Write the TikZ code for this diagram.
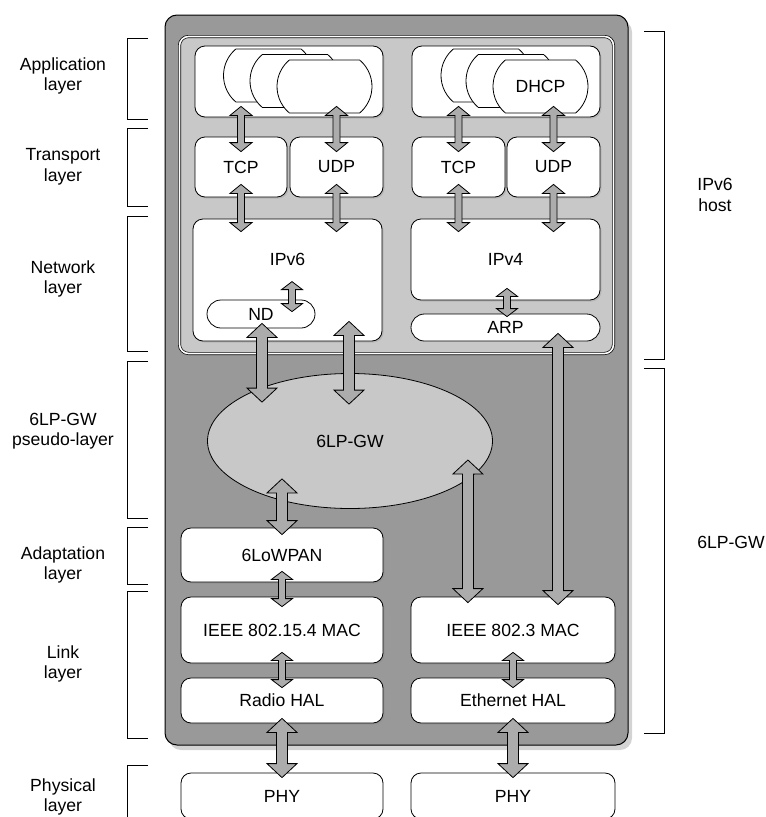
\documentclass[tikz,border=0pt]{standalone}
\usepackage{fontspec}
\setmainfont{Liberation Sans}
\usetikzlibrary{calc,shapes.misc,shapes.geometric,shadows}
\definecolor{gwgray}{RGB}{153,153,153}
\definecolor{hostgray}{RGB}{200,200,200}
\definecolor{arrgray}{RGB}{172,172,172}

\begin{document}
\begin{tikzpicture}[x=1pt, y=-1pt,
    font=\fontsize{17.6}{20.5}\selectfont,
    sz/.style 2 args={minimum width=#1pt, minimum height=#2pt},
    stackbox/.style={rectangle, rounded corners=12pt, draw, line width=1pt, fill=gwgray, inner sep=0pt,
        drop shadow={opacity=0.35, shadow xshift=4pt, shadow yshift=-5pt}},
    hostbox/.style={rectangle, rounded corners=9pt, draw=black, double=white, double distance=1.6pt,
        line width=0.7pt, fill=hostgray, inner sep=0pt},
    plainbox/.style={rectangle, rounded corners=10pt, draw, line width=0.8pt, fill=white, inner sep=0pt},
    box/.style={plainbox, drop shadow={opacity=0.25, shadow xshift=1.5pt, shadow yshift=-1.5pt}},
    app/.style={rounded rectangle, rounded rectangle arc length=100, draw, line width=0.8pt,
        fill=white, inner sep=0pt, sz={90}{53}},
    pill/.style={rounded rectangle, draw, line width=0.8pt, fill=white, inner sep=0pt},
    gwell/.style={ellipse, draw, line width=0.8pt, fill=hostgray, inner sep=0pt},
    lbl/.style={align=center, inner sep=0pt},
    brk/.style={line width=0.9pt},
    blkarrow/.style n args={3}{draw, line width=0.8pt, fill=arrgray,
        to path={let \p1=(\tikztostart), \p2=(\tikztotarget) in
            (\x1,\y1) -- (\x1+#2,\y1-#3) -- (\x1+#1,\y1-#3) -- (\x1+#1,\y2+#3) -- (\x1+#2,\y2+#3)
            -- (\x1,\y2) -- (\x1-#2,\y2+#3) -- (\x1-#1,\y2+#3) -- (\x1-#1,\y1-#3) -- (\x1-#2,\y1-#3) -- cycle}},
    bigarrow/.style={blkarrow={5.5pt}{15pt}{14pt}},
    midarrow/.style={blkarrow={3.5pt}{11pt}{9pt}},
    smallarrow/.style={blkarrow={3.5pt}{10.5pt}{8pt}}
]
\useasboundingbox (0,0) rectangle (766,817);

% ---- frames ----
\node[stackbox, sz={463}{730}] (stack) at (396.5,380) {};
\node[hostbox, sz={434}{317}] (host) at (396.5,195) {};

% ---- application layer ----
\node[box, sz={188}{71}] (appL) at (289,81.5) {};
\node[box, sz={188}{71}] (appR) at (506,81.5) {};
\node[app] (aL1) at (268.5,75.5) {};
\node[app] (aL2) at (295,81) {};
\node[app, sz={95}{53}] (aL3) at (324.5,86.5) {};
\node[app] (aR1) at (486,75.5) {};
\node[app] (aR2) at (511,81) {};
\node[app, sz={95}{53}] (aR3) at (540.5,86.5) {DHCP};

% ---- transport layer ----
\node[box, sz={92}{60}] (tcpL) at (241,167) {TCP};
\node[box, sz={93}{60}] (udpL) at (336.5,167) {UDP};
\node[box, sz={93}{60}] (tcpR) at (458.5,167) {TCP};
\node[box, sz={93}{60}] (udpR) at (553.5,167) {UDP};

% ---- network layer ----
\node[box, sz={189}{122}, label={[yshift=21pt]center:IPv6}] (ipv6) at (287.5,280) {};
\node[box, sz={189}{81}] (ipv4) at (505.5,259.5) {IPv4};
\node[pill, sz={108}{28}] (nd) at (261,314) {ND};
\node[pill, sz={189}{27}] (arp) at (505.5,327.5) {ARP};

% ---- gateway and below ----
\node[gwell, sz={285}{135}] (lpgw) at (350,441) {6LP-GW};
\node[box, sz={202}{54}] (lowpan) at (282,555) {6LoWPAN};
\node[box, sz={202}{66}] (mac154) at (282,630) {IEEE 802.15.4 MAC};
\node[box, sz={204}{66}] (mac3) at (513,630) {IEEE 802.3 MAC};
\node[box, sz={202}{45}] (halR) at (282,700.5) {Radio HAL};
\node[box, sz={204}{45}] (halE) at (513,700.5) {Ethernet HAL};
\node[plainbox, sz={202}{46}] (phyL) at (282,796) {PHY};
\node[plainbox, sz={204}{46}] (phyE) at (513,796) {PHY};

% ---- arrows ----
\draw[midarrow] ($(tcpL |- appL.south)+(0,-11)$) to ($(tcpL.north)+(0,15)$);
\draw[midarrow] ($(udpL |- appL.south)+(0,-11)$) to ($(udpL.north)+(0,15)$);
\draw[midarrow] ($(tcpR |- appR.south)+(0,-11)$) to ($(tcpR.north)+(0,15)$);
\draw[midarrow] ($(udpR |- appR.south)+(0,-11)$) to ($(udpR.north)+(0,15)$);
\draw[midarrow] ($(tcpL.south)+(0,-13)$) to ($(tcpL |- ipv6.north)+(0,13)$);
\draw[midarrow] ($(udpL.south)+(0,-13)$) to ($(udpL |- ipv6.north)+(0,13)$);
\draw[midarrow] ($(tcpR.south)+(0,-13)$) to ($(tcpR |- ipv4.north)+(0,13)$);
\draw[midarrow] ($(udpR.south)+(0,-13)$) to ($(udpR |- ipv4.north)+(0,13)$);

\draw[smallarrow] ($(nd.north)+(31,-18)$) to ($(nd.north)+(31,12)$);
\draw[smallarrow] ($(ipv4.south)+(1.5,-12)$) to ($(arp.north)+(1.5,3)$);
\draw[smallarrow] ($(lowpan.south)+(0,-11)$) to ($(mac154.north)+(0,10)$);
\draw[smallarrow] ($(mac154.south)+(0,-11)$) to ($(halR.north)+(0,10)$);
\draw[smallarrow] ($(mac3.south)+(0,-11)$) to ($(halE.north)+(0,10)$);

\draw[bigarrow] ($(nd.south)+(1,-5)$) to ($(nd |- lpgw.north)+(1,29)$);
\draw[bigarrow] ($(ipv6.south)+(61.5,-20)$) to ($(lpgw.north)+(-1,31)$);
\draw[bigarrow] ($(arp.south)+(52.5,-8)$) to ($(mac3.north)+(45,8)$);
\draw[bigarrow] ($(lpgw.south)+(-68,-30)$) to ($(lowpan.north)+(0,7)$);
\draw[bigarrow] ($(lpgw.east)+(-25,19)$) to ($(mac3.north)+(-45,6)$);
\draw[bigarrow] ($(halR.south)+(0,-5)$) to ($(phyL.north)+(0,5)$);
\draw[bigarrow] ($(halE.south)+(0,-5)$) to ($(phyE.north)+(0,5)$);

% ---- layer brackets ----
\foreach \t/\b in {38/119, 128/206, 216/351, 361/518, 527/584, 591/738}
  \draw[brk] (148,\t) -| (127,\b) -- (148,\b);
\draw[brk] (148,765) -- (127,765) -- (127,817);
\foreach \t/\b in {31/359, 368/733}
  \draw[brk] (644,\t) -| (664,\b) -- (644,\b);

% ---- layer labels ----
\node[lbl] (lApp) at (63,76) {Application\\layer};
\node[lbl] (lTra) at (63,167) {Transport\\layer};
\node[lbl] (lNet) at (63,279) {Network\\layer};
\node[lbl] (lGW) at (63,431) {6LP-GW\\pseudo-layer};
\node[lbl] (lAda) at (63,565) {Adaptation\\layer};
\node[lbl] (lLnk) at (63,664) {Link\\layer};
\node[lbl] (lPhy) at (63,797) {Physical\\layer};
\node[lbl] (rHost) at (715,195) {IPv6\\host};
\node[lbl] (rGW) at (731,542) {6LP-GW};

\end{tikzpicture}
\end{document}
